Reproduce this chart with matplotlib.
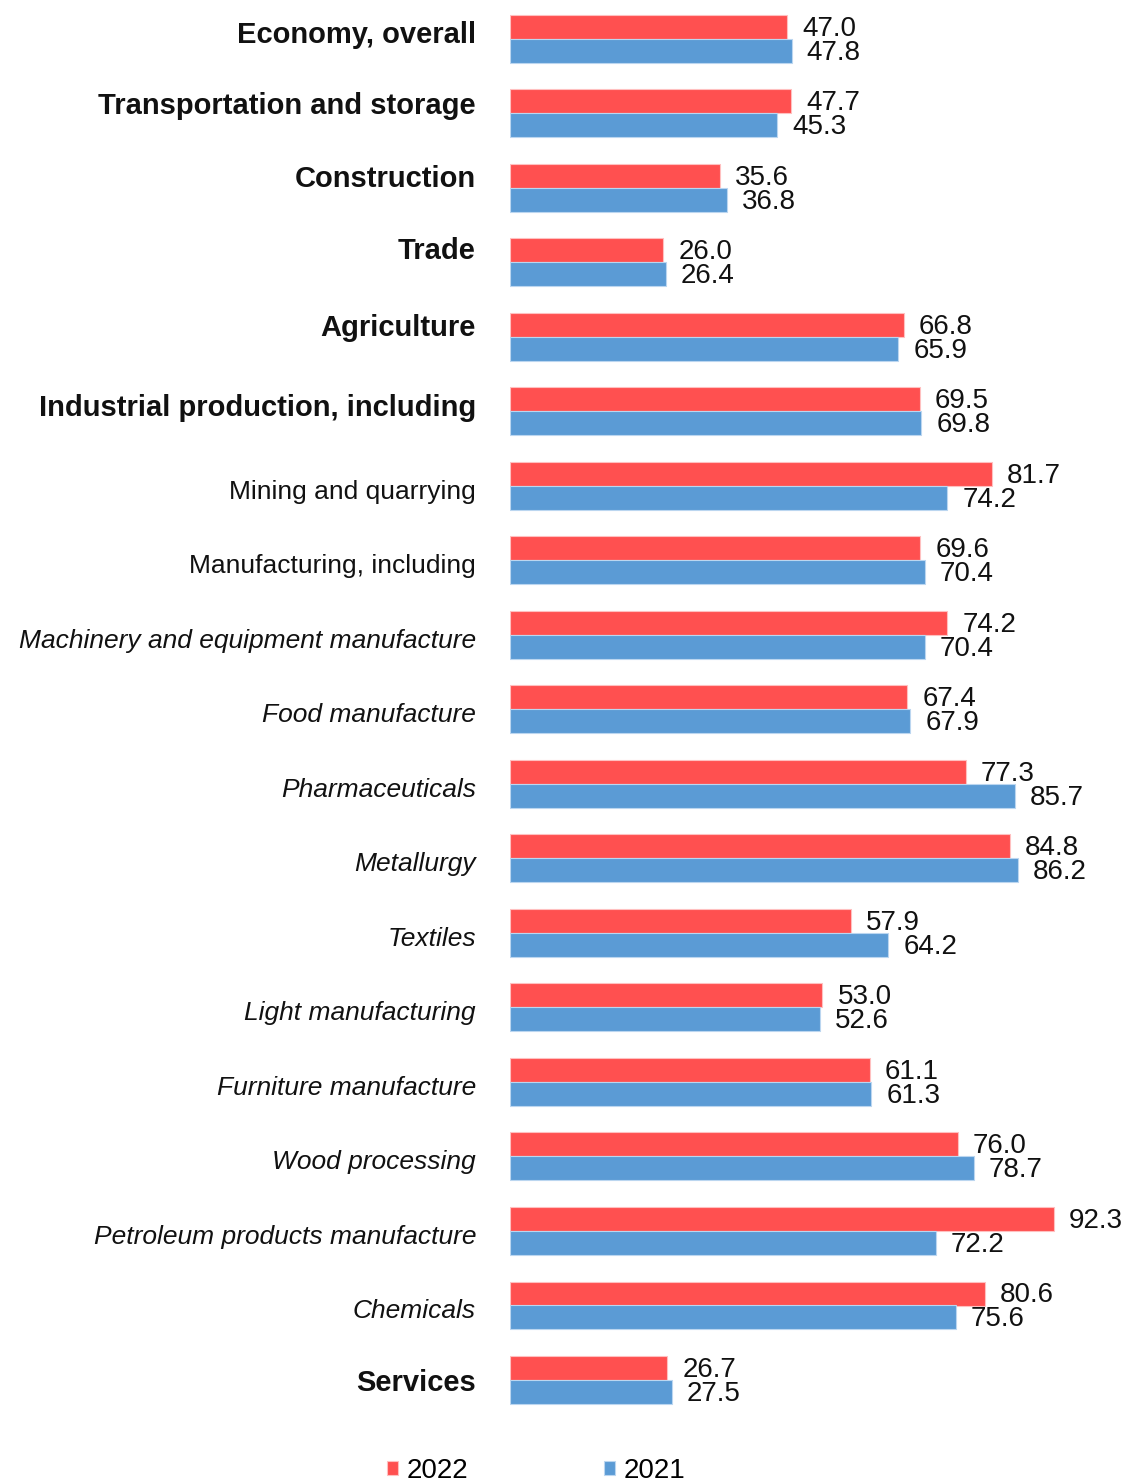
import matplotlib
matplotlib.use("Agg")
import matplotlib.pyplot as plt

categories = [
    "Economy, overall", "Transportation and storage", "Construction", "Trade",
    "Agriculture", "Industrial production, including", "Mining and quarrying",
    "Manufacturing, including", "Machinery and equipment manufacture",
    "Food manufacture", "Pharmaceuticals", "Metallurgy", "Textiles",
    "Light manufacturing", "Furniture manufacture", "Wood processing",
    "Petroleum products manufacture", "Chemicals", "Services",
]
styles = ["bold"] * 6 + ["normal"] * 2 + ["italic"] * 10 + ["bold"]
values_2022 = [47.0, 47.7, 35.6, 26.0, 66.8, 69.5, 81.7, 69.6, 74.2, 67.4,
               77.3, 84.8, 57.9, 53.0, 61.1, 76.0, 92.3, 80.6, 26.7]
values_2021 = [47.8, 45.3, 36.8, 26.4, 65.9, 69.8, 74.2, 70.4, 70.4, 67.9,
               85.7, 86.2, 64.2, 52.6, 61.3, 78.7, 72.2, 75.6, 27.5]
series_names = ["2022", "2021"]

plt.rcParams["font.family"] = ["Liberation Sans", "DejaVu Sans"]

W, H = 1128, 1483
fig = plt.figure(figsize=(W / 100, H / 100), dpi=100)
x0 = 510
px_per_unit = 5.894
row = 74.5
first = 39
ax = fig.add_axes([x0 / W, 0, (W - x0) / W, 1])
ax.set_xlim(0, (W - x0) / px_per_unit)
ax.set_ylim((H - first) / row, -first / row)
ax.axis("off")

red = "#FF5050"
blue = "#5B9BD5"
bh = 24 / row
idx = list(range(len(categories)))
b1 = ax.barh([i - bh / 2 for i in idx], values_2022, height=bh, color=red,
             edgecolor="#FFC0C0", linewidth=0.8, label=series_names[0])
b2 = ax.barh([i + bh / 2 for i in idx], values_2021, height=bh, color=blue,
             edgecolor="#BBD6F0", linewidth=0.8, label=series_names[1])

# vertical nudges (pixels, upward positive) of the category labels
label_nudge = [4, 7, 9, 11, 9, 3] + [-6] * 12 + [-3]
size_for = {"bold": 21, "normal": 19, "italic": 19}

for i in idx:
    ax.annotate(f"{values_2022[i]:.1f}", xy=(values_2022[i], i - bh / 2),
                xytext=(15, -2), textcoords="offset pixels", ha="left",
                va="center", fontsize=20, color="#111111")
    ax.annotate(f"{values_2021[i]:.1f}", xy=(values_2021[i], i + bh / 2),
                xytext=(15, -2), textcoords="offset pixels", ha="left",
                va="center", fontsize=20, color="#111111")
    st = styles[i]
    ax.annotate(categories[i], xy=(0, i), xytext=(-34, label_nudge[i]),
                textcoords="offset pixels", ha="right", va="center",
                fontsize=size_for[st], color="#111111",
                fontweight="bold" if st == "bold" else "normal",
                fontstyle="italic" if st == "italic" else "normal")

fig.legend(handles=[b1, b2], labels=series_names, loc="center",
           bbox_to_anchor=(536 / W, 1 - 1471 / H), ncol=2, frameon=False,
           fontsize=20, handlelength=0.4, handleheight=0.4,
           handletextpad=0.3, columnspacing=4.9)

fig.savefig("out.png", dpi=100)
